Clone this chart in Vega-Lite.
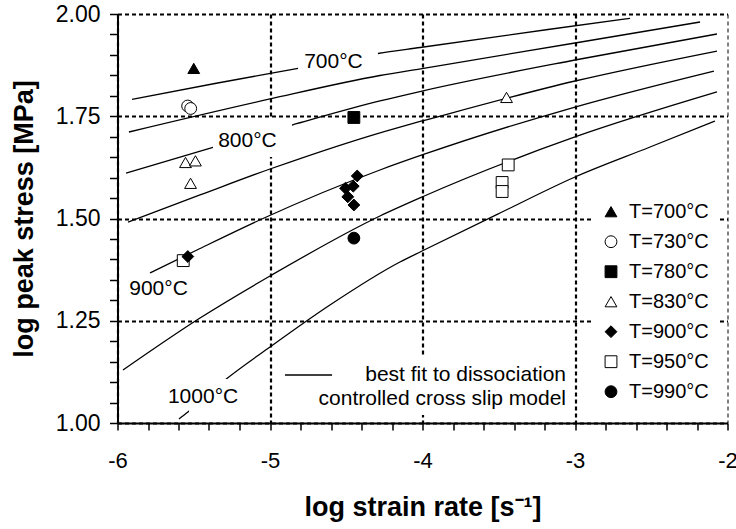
{
  "$schema": "https://vega.github.io/schema/vega-lite/v6.json",
  "autosize": {"type": "none"},
  "padding": {"left": 117.5, "top": 14, "right": 8.5, "bottom": 106},
  "width": 610,
  "height": 409,
  "background": "white",
  "config": {"view": {"stroke": null}},
  "datasets": {
    "curves": [
      {"curve": "700", "x": -5.905, "y": 1.7914},
      {"curve": "700", "x": -5.361, "y": 1.8301},
      {"curve": "700", "x": -4.816, "y": 1.8672},
      {"curve": "700", "x": -4.292, "y": 1.9034},
      {"curve": "700", "x": -4.016, "y": 1.9181},
      {"curve": "700", "x": -3.177, "y": 1.9621},
      {"curve": "700", "x": -2.639, "y": 1.9895},
      {"curve": "750", "x": -5.925, "y": 1.7115},
      {"curve": "750", "x": -5.0, "y": 1.7922},
      {"curve": "750", "x": -4.279, "y": 1.8496},
      {"curve": "750", "x": -4.003, "y": 1.8667},
      {"curve": "750", "x": -3.0, "y": 1.9291},
      {"curve": "750", "x": -2.18, "y": 1.9804},
      {"curve": "800", "x": -5.944, "y": 1.6112},
      {"curve": "800", "x": -5.374, "y": 1.6736},
      {"curve": "800", "x": -4.856, "y": 1.7286},
      {"curve": "800", "x": -4.279, "y": 1.7873},
      {"curve": "800", "x": -4.003, "y": 1.8117},
      {"curve": "800", "x": -3.0, "y": 1.8875},
      {"curve": "800", "x": -2.069, "y": 1.9511},
      {"curve": "850", "x": -5.931, "y": 1.4914},
      {"curve": "850", "x": -5.459, "y": 1.5575},
      {"curve": "850", "x": -5.0, "y": 1.621},
      {"curve": "850", "x": -4.148, "y": 1.7237},
      {"curve": "850", "x": -4.003, "y": 1.7384},
      {"curve": "850", "x": -3.0, "y": 1.8362},
      {"curve": "850", "x": -2.069, "y": 1.9095},
      {"curve": "900", "x": -5.787, "y": 1.3667},
      {"curve": "900", "x": -5.479, "y": 1.423},
      {"curve": "900", "x": -5.046, "y": 1.5},
      {"curve": "900", "x": -4.279, "y": 1.6186},
      {"curve": "900", "x": -4.003, "y": 1.6553},
      {"curve": "900", "x": -3.0, "y": 1.7726},
      {"curve": "900", "x": -2.089, "y": 1.8606},
      {"curve": "950", "x": -5.964, "y": 1.1296},
      {"curve": "950", "x": -5.459, "y": 1.2567},
      {"curve": "950", "x": -5.0, "y": 1.3594},
      {"curve": "950", "x": -4.279, "y": 1.5061},
      {"curve": "950", "x": -4.003, "y": 1.5526},
      {"curve": "950", "x": -3.0, "y": 1.6993},
      {"curve": "950", "x": -2.069, "y": 1.8093},
      {"curve": "1000", "x": -5.597, "y": 1.0098},
      {"curve": "1000", "x": -5.538, "y": 1.0269},
      {"curve": "1000", "x": -5.295, "y": 1.1051},
      {"curve": "1000", "x": -5.0, "y": 1.1858},
      {"curve": "1000", "x": -4.607, "y": 1.2885},
      {"curve": "1000", "x": -4.148, "y": 1.3936},
      {"curve": "1000", "x": -4.003, "y": 1.4205},
      {"curve": "1000", "x": -3.492, "y": 1.5134},
      {"curve": "1000", "x": -3.0, "y": 1.6015},
      {"curve": "1000", "x": -2.508, "y": 1.6748},
      {"curve": "1000", "x": -2.082, "y": 1.7384}
    ],
    "masks": [
      {"x": -4.816, "x2": -4.292, "y": 1.9169, "y2": 1.8582},
      {"x": -5.374, "x2": -4.856, "y": 1.7457, "y2": 1.6504},
      {"x": -5.531, "x2": -5.282, "y": 1.1076, "y2": 1.0244},
      {"x": -4.967, "x2": -3.033, "y": 1.1614, "y2": 1.0196}
    ],
    "curveLabels": [
      {"x": -4.584, "y": 1.8672, "label": "700°C"},
      {"x": -5.148, "y": 1.6755, "label": "800°C"},
      {"x": -5.731, "y": 1.313, "label": "900°C"},
      {"x": -5.439, "y": 1.0482, "label": "1000°C"}
    ],
    "fitLine": [
      {"x": -4.902, "x2": -4.593, "y": 1.1174}
    ],
    "fitText": [
      {"x": -3.059, "y": 1.1039, "label": "best fit to dissociation"},
      {"x": -3.059, "y": 1.0428, "label": "controlled cross slip model"}
    ],
    "points": [
      {"T": "T=700°C", "x": -5.5, "y": 1.867},
      {"T": "T=730°C", "x": -5.54, "y": 1.775},
      {"T": "T=730°C", "x": -5.52, "y": 1.769},
      {"T": "T=780°C", "x": -4.45, "y": 1.747},
      {"T": "T=830°C", "x": -5.554, "y": 1.637},
      {"T": "T=830°C", "x": -5.489, "y": 1.641},
      {"T": "T=830°C", "x": -5.521, "y": 1.586},
      {"T": "T=830°C", "x": -3.449, "y": 1.796},
      {"T": "T=950°C", "x": -5.569, "y": 1.397},
      {"T": "T=950°C", "x": -3.438, "y": 1.631},
      {"T": "T=950°C", "x": -3.478, "y": 1.588},
      {"T": "T=950°C", "x": -3.478, "y": 1.566},
      {"T": "T=900°C", "x": -4.428, "y": 1.604},
      {"T": "T=900°C", "x": -4.454, "y": 1.579},
      {"T": "T=900°C", "x": -4.505, "y": 1.574},
      {"T": "T=900°C", "x": -4.49, "y": 1.553},
      {"T": "T=900°C", "x": -4.45, "y": 1.533},
      {"T": "T=900°C", "x": -5.539, "y": 1.407},
      {"T": "T=990°C", "x": -4.45, "y": 1.452}
    ]
  },
  "encoding": {
    "x": {
      "field": "x", "type": "quantitative",
      "scale": {"domain": [-6, -2], "nice": false, "zero": false},
      "axis": {
        "values": [-6, -5.8, -5.6, -5.4, -5.2, -5, -4.8, -4.6, -4.4, -4.2, -4, -3.8, -3.6, -3.4, -3.2, -3, -2.8, -2.6, -2.4, -2.2, -2],
        "labelExpr": "abs(datum.value - round(datum.value)) < 0.001 ? '' + round(datum.value) : ''",
        "labelOverlap": false, "labelFlush": false, "labelBound": false,
        "labelFont": "Liberation Sans", "labelFontSize": 22, "labelColor": "black", "labelPadding": 20,
        "tickSize": 7, "tickColor": "black", "tickWidth": 1.5,
        "domainColor": "black", "domainWidth": 2,
        "grid": true, "gridColor": "black", "gridDash": [4, 3],
        "gridWidth": {"condition": {"test": "datum.value > -2.01", "value": 1}, "value": 2.2},
        "gridOpacity": {"condition": {"test": "abs(datum.value - round(datum.value)) < 0.001", "value": 1}, "value": 0},
        "title": "log strain rate [s⁻¹]",
        "titleFont": "Liberation Sans", "titleFontSize": 27, "titleFontWeight": "bold", "titleColor": "black",
        "titleX": 305, "titleY": 92, "titleAlign": "center", "titleBaseline": "alphabetic"
      }
    },
    "y": {
      "field": "y", "type": "quantitative",
      "scale": {"domain": [1, 2], "nice": false, "zero": false},
      "axis": {
        "values": [1, 1.05, 1.1, 1.15, 1.2, 1.25, 1.3, 1.35, 1.4, 1.45, 1.5, 1.55, 1.6, 1.65, 1.7, 1.75, 1.8, 1.85, 1.9, 1.95, 2],
        "labelExpr": "abs(datum.value * 4 - round(datum.value * 4)) < 0.001 ? format(datum.value, '.2f') : ''",
        "labelOverlap": false, "labelFlush": false, "labelBound": false,
        "labelFont": "Liberation Sans", "labelFontSize": 23, "labelColor": "black", "labelPadding": 9.5,
        "tickSize": 8, "tickColor": "black", "tickWidth": 1.5,
        "domainColor": "black", "domainWidth": 2,
        "grid": true, "gridColor": "black", "gridDash": [4, 3], "gridWidth": 2.2,
        "gridOpacity": {"condition": {"test": "abs(datum.value * 4 - round(datum.value * 4)) < 0.001", "value": 1}, "value": 0},
        "title": "log peak stress [MPa]",
        "titleFont": "Liberation Sans", "titleFontSize": 27, "titleFontWeight": "bold", "titleColor": "black",
        "titleAngle": -90, "titleX": -85, "titleY": 204.5, "titleAlign": "center", "titleBaseline": "alphabetic"
      }
    }
  },
  "layer": [
    {
      "data": {"name": "curves"},
      "mark": {"type": "line", "color": "black", "strokeWidth": 1.3, "interpolate": "monotone"},
      "encoding": {"detail": {"field": "curve", "type": "nominal"}}
    },
    {
      "data": {"name": "masks"},
      "mark": {"type": "rect", "fill": "white", "stroke": null},
      "encoding": {
        "x2": {"field": "x2"},
        "y2": {"field": "y2"}
      }
    },
    {
      "data": {"name": "curveLabels"},
      "mark": {"type": "text", "font": "Liberation Sans", "fontSize": 21, "color": "black", "align": "center", "baseline": "alphabetic"},
      "encoding": {"text": {"field": "label"}}
    },
    {
      "data": {"name": "fitLine"},
      "mark": {"type": "rule", "color": "black", "strokeWidth": 1.3},
      "encoding": {"x2": {"field": "x2"}}
    },
    {
      "data": {"name": "fitText"},
      "mark": {"type": "text", "font": "Liberation Sans", "fontSize": 21, "color": "black", "align": "right", "baseline": "alphabetic"},
      "encoding": {"text": {"field": "label"}}
    },
    {
      "data": {"name": "points"},
      "mark": {"type": "point", "filled": true, "stroke": "black", "strokeWidth": 1, "size": 140, "opacity": 1},
      "encoding": {
        "shape": {
          "field": "T", "type": "nominal",
          "scale": {
            "domain": ["T=700°C", "T=730°C", "T=780°C", "T=830°C", "T=900°C", "T=950°C", "T=990°C"],
            "range": ["triangle-up", "circle", "square", "triangle-up", "diamond", "square", "circle"]
          },
          "legend": {
            "title": null, "orient": "none", "legendX": 475.5, "legendY": 179.7,
            "fillColor": "white", "padding": 8,
            "labelFont": "Liberation Sans", "labelFontSize": 20, "labelColor": "black", "labelOffset": 8,
            "symbolSize": 140, "rowPadding": 10, "symbolStrokeColor": "black", "symbolStrokeWidth": 1, "symbolOpacity": 1,
            "encode": {"symbols": {"update": {"stroke": {"value": "black"}, "strokeWidth": {"value": 1}}}}
          }
        },
        "fill": {
          "field": "T", "type": "nominal",
          "scale": {
            "domain": ["T=700°C", "T=730°C", "T=780°C", "T=830°C", "T=900°C", "T=950°C", "T=990°C"],
            "range": ["black", "white", "black", "white", "black", "white", "black"]
          },
          "legend": {
            "title": null, "orient": "none", "legendX": 475.5, "legendY": 179.7,
            "fillColor": "white", "padding": 8,
            "labelFont": "Liberation Sans", "labelFontSize": 20, "labelColor": "black", "labelOffset": 8,
            "symbolSize": 140, "rowPadding": 10, "symbolStrokeColor": "black", "symbolStrokeWidth": 1, "symbolOpacity": 1,
            "encode": {"symbols": {"update": {"stroke": {"value": "black"}, "strokeWidth": {"value": 1}}}}
          }
        }
      }
    }
  ]
}
